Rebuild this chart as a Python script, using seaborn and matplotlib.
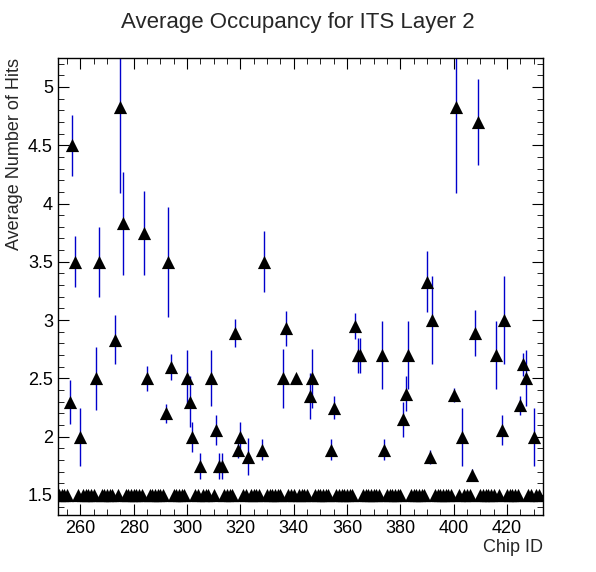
import numpy as np
import pandas as pd
import matplotlib
matplotlib.use("Agg")
import matplotlib.pyplot as plt
import seaborn as sns
from matplotlib.ticker import MultipleLocator

# chips with hits above the baseline
hit_chips = [256, 257, 258, 260, 266, 267, 273, 275, 276, 284, 285, 292, 293, 294,
             300, 301, 302, 305, 309, 311, 312, 313, 318, 319, 320, 323, 328, 329,
             336, 337, 341, 346, 347, 354, 355, 363, 364, 365, 373, 374, 381, 382,
             383, 390, 391, 392, 400, 401, 403, 407, 408, 409, 416, 418, 419, 425,
             426, 427, 430]
hit_values = [2.30, 4.50, 3.50, 2.00, 2.50, 3.50, 2.83, 4.83, 3.83, 3.75, 2.50, 2.20, 3.50, 2.60,
              2.50, 2.30, 2.00, 1.75, 2.50, 2.06, 1.75, 1.75, 2.89, 1.89, 2.00, 1.83, 1.89, 3.50,
              2.50, 2.93, 2.50, 2.35, 2.50, 1.89, 2.25, 2.95, 2.70, 2.70, 2.70, 1.89, 2.15, 2.37,
              2.70, 3.33, 1.83, 3.00, 2.36, 4.83, 2.00, 1.67, 2.89, 4.70, 2.70, 2.06, 3.00, 2.27,
              2.62, 2.50, 2.00]
hit_errors = [0.19, 0.26, 0.22, 0.25, 0.27, 0.30, 0.21, 0.74, 0.44, 0.36, 0.11, 0.08, 0.47, 0.11,
              0.24, 0.22, 0.13, 0.11, 0.24, 0.13, 0.11, 0.11, 0.12, 0.07, 0.13, 0.16, 0.09, 0.26,
              0.25, 0.15, 0.00, 0.20, 0.25, 0.09, 0.10, 0.11, 0.15, 0.15, 0.29, 0.09, 0.15, 0.15,
              0.29, 0.26, 0.06, 0.38, 0.06, 0.74, 0.25, 0.05, 0.20, 0.37, 0.29, 0.13, 0.38, 0.08,
              0.10, 0.24, 0.25]
first_chip, last_chip = 252, 432
baseline = 1.5

all_chips = list(range(first_chip, last_chip + 1))
vals = dict(zip(hit_chips, hit_values))
errs = dict(zip(hit_chips, hit_errors))
df = pd.DataFrame({
    "chip": all_chips,
    "hits": [vals.get(c, baseline) for c in all_chips],
    "err": [errs.get(c, 0.0) for c in all_chips],
})

sns.set_style("ticks")
plt.rcParams["font.family"] = ["Liberation Sans", "DejaVu Sans"]

fig = plt.figure(figsize=(5.96, 5.72), dpi=100)
ax = fig.add_axes([0.097, 0.10, 0.814, 0.799])

ax.errorbar(df["chip"], df["hits"], yerr=df["err"], fmt="none", ecolor="#0000cc",
            elinewidth=1, capsize=0, zorder=2)
sns.scatterplot(data=df, x="chip", y="hits", marker="^", s=90, color="black",
                edgecolor="black", linewidth=0, ax=ax, zorder=3)

ax.set_xlim(251.5, 433.5)
ax.set_ylim(1.33, 5.25)
ax.xaxis.set_major_locator(MultipleLocator(20))
ax.xaxis.set_minor_locator(MultipleLocator(5))
ax.yaxis.set_minor_locator(MultipleLocator(0.1))
ax.set_yticks([1.5, 2, 2.5, 3, 3.5, 4, 4.5, 5])
ax.set_yticklabels(["1.5", "2", "2.5", "3", "3.5", "4", "4.5", "5"])
ax.tick_params(which="both", direction="in", top=True, right=True, labelsize=13, colors="black")
ax.tick_params(which="major", length=8)
ax.tick_params(which="minor", length=4)
for s in ax.spines.values():
    s.set_linewidth(1)
    s.set_color("black")

ax.set_xlabel("Chip ID", fontsize=13, loc="right", labelpad=2)
ax.set_ylabel("Average Number of Hits", fontsize=13, loc="top", labelpad=4)
fig.text(0.5, 0.96, "Average Occupancy for ITS Layer 2", ha="center", va="center", fontsize=16)

fig.savefig("out.png", dpi=100)
